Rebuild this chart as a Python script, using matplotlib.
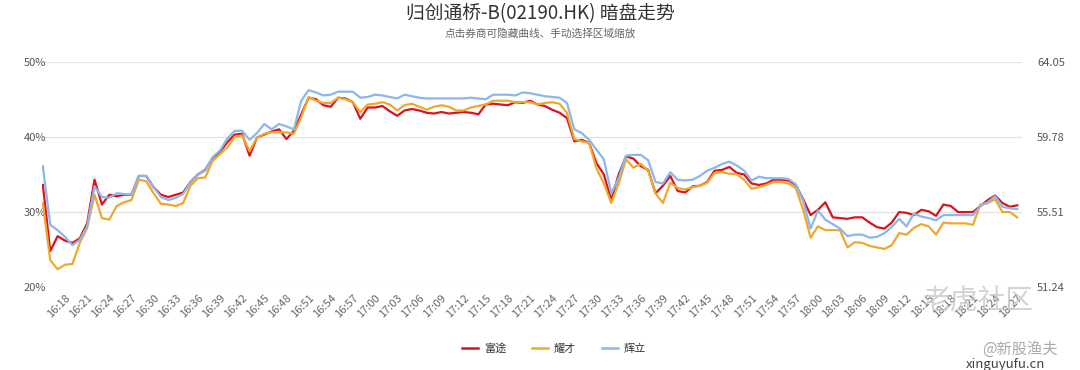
import matplotlib
matplotlib.use('Agg')
import matplotlib.pyplot as plt
from matplotlib.lines import Line2D

plt.rcParams['font.family'] = ['Noto Sans CJK SC', 'DejaVu Sans']

# one point per minute, 16:15 .. 18:27
times = ['%d:%02d' % ((16 * 60 + 15 + m) // 60, (16 * 60 + 15 + m) % 60) for m in range(133)]

futu = [33.6, 24.8, 26.8, 26.2, 25.9, 26.5, 28.5, 34.3, 31.0, 32.3,
        32.1, 32.3, 32.3, 34.8, 34.8, 33.3, 32.3, 32.0, 32.3, 32.6,
        34.0, 35.0, 35.6, 37.2, 38.0, 39.3, 40.3, 40.4, 37.5, 39.9,
        40.3, 40.7, 41.0, 39.7, 40.8, 43.0, 45.2, 45.0, 44.2, 44.0,
        45.2, 45.1, 44.6, 42.4, 43.9, 43.9, 44.1, 43.4, 42.8, 43.5,
        43.7, 43.5, 43.2, 43.1, 43.3, 43.1, 43.2, 43.3, 43.2, 43.0,
        44.3, 44.4, 44.3, 44.2, 44.6, 44.5, 44.8, 44.3, 44.1, 43.6,
        43.2, 42.5, 39.4, 39.6, 39.2, 36.5, 35.0, 31.6, 35.0, 37.4,
        37.1, 36.1, 35.6, 32.5, 33.5, 34.8, 32.8, 32.6, 33.4, 33.5,
        34.0, 35.5, 35.6, 36.0, 35.2, 35.0, 33.8, 33.6, 33.8, 34.3,
        34.3, 34.2, 33.6, 31.7, 29.6, 30.3, 31.3, 29.3, 29.2, 29.1,
        29.3, 29.3, 28.6, 28.0, 27.8, 28.6, 30.0, 29.9, 29.6, 30.3,
        30.1, 29.5, 31.0, 30.8, 30.0, 30.0, 30.0, 30.8, 31.6, 32.2,
        31.2, 30.7, 30.9]

yaocai = [31.2, 23.6, 22.4, 23.0, 23.1, 25.9, 27.9, 32.3, 29.2, 29.0,
          30.8, 31.3, 31.6, 34.3, 34.1, 32.5, 31.1, 31.0, 30.8, 31.2,
          33.5, 34.5, 34.6, 36.8, 37.7, 38.6, 40.0, 40.2, 38.1, 39.9,
          40.4, 40.6, 40.6, 40.6, 40.4, 42.6, 45.3, 44.8, 44.5, 44.5,
          45.2, 45.0, 44.6, 43.3, 44.3, 44.4, 44.6, 44.3, 43.5, 44.2,
          44.4, 44.0, 43.6, 44.0, 44.2, 44.0, 43.5, 43.5, 43.9, 44.1,
          44.3, 44.8, 44.8, 44.8, 44.6, 44.6, 44.6, 44.3, 44.5, 44.6,
          44.4, 43.2, 39.7, 39.4, 39.2, 35.8, 33.8, 31.2, 33.8, 37.0,
          35.9, 36.4, 35.5, 32.5, 31.2, 33.9, 33.2, 33.0, 33.3, 33.5,
          33.9, 35.2, 35.3, 35.1, 35.0, 34.3, 33.1, 33.3, 33.6, 34.0,
          34.0, 33.8, 33.2, 30.3, 26.6, 28.1, 27.6, 27.6, 27.6, 25.3,
          26.0, 25.9, 25.5, 25.3, 25.1, 25.6, 27.2, 27.0, 27.9, 28.4,
          28.1, 27.0, 28.6, 28.5, 28.5, 28.5, 28.3, 31.0, 31.2, 31.7,
          30.0, 30.0, 29.3]

huili = [36.1, 28.3, 27.6, 26.7, 25.6, 26.3, 28.1, 33.4, 32.0, 31.9,
         32.5, 32.4, 32.3, 34.8, 34.8, 33.3, 32.0, 31.6, 31.9, 32.4,
         34.0, 35.0, 35.5, 37.3, 38.2, 39.8, 40.8, 40.8, 39.6, 40.5,
         41.7, 41.0, 41.7, 41.4, 41.0, 44.8, 46.2, 45.9, 45.5, 45.6,
         46.0, 46.0, 46.0, 45.2, 45.3, 45.6, 45.5, 45.3, 45.1, 45.6,
         45.4, 45.2, 45.1, 45.1, 45.1, 45.1, 45.1, 45.1, 45.2, 45.1,
         45.0, 45.6, 45.6, 45.6, 45.5, 45.9, 45.8, 45.6, 45.4, 45.3,
         45.2, 44.5, 41.0, 40.5, 39.6, 38.3, 37.0, 32.5, 34.5, 37.5,
         37.6, 37.6, 36.9, 34.0, 33.8, 35.3, 34.3, 34.2, 34.3, 34.8,
         35.5, 35.9, 36.4, 36.7, 36.2, 35.5, 34.2, 34.7, 34.5, 34.5,
         34.5, 34.4, 33.7, 31.5, 27.8, 30.2, 29.0, 28.4, 27.8, 26.8,
         27.0, 27.0, 26.6, 26.7, 27.2, 28.0, 29.1, 28.1, 29.8, 29.4,
         29.2, 28.9, 29.6, 29.6, 29.6, 29.6, 29.6, 30.8, 31.3, 32.1,
         30.7, 30.5, 30.4]

series_names = ['富途', '耀才', '辉立']
series_colors = ['#d9141f', '#f0a82c', '#8db6ea']
pct_ticks = [20, 30, 40, 50]
price_ticks = ['51.24', '55.51', '59.78', '64.05']

fig = plt.figure(figsize=(10.8, 3.7), dpi=100)
ax = fig.add_axes([0.039, 0.2235, 0.907, 0.61])

x = list(range(len(times)))
for vals, name, col in zip([futu, yaocai, huili], series_names, series_colors):
    ax.plot(x, vals, color=col, lw=1.6, label=name, solid_joinstyle='round')

ax.set_ylim(20, 50)
ax.set_xlim(-0.1, 132.6)
ax.set_yticks(pct_ticks)
ax.set_yticklabels(['%d%%' % p for p in pct_ticks])
ax.grid(axis='y', color='#e3e3e3', lw=0.9)
ax.set_axisbelow(True)
for s in ax.spines.values():
    s.set_visible(False)
ax.tick_params(axis='y', length=0, labelsize=8, labelcolor='#555555', pad=-3)

tick_idx = list(range(3, len(times), 3))
ax.set_xticks(tick_idx)
ax.set_xticklabels([times[i] for i in tick_idx], rotation=45, ha='right',
                   rotation_mode='anchor', fontsize=8, color='#666666')
ax.tick_params(axis='x', length=0, pad=4)

ax2 = ax.twinx()
ax2.set_ylim(20, 50)
ax2.set_yticks(pct_ticks)
ax2.set_yticklabels(price_ticks)
for s in ax2.spines.values():
    s.set_visible(False)
ax2.tick_params(axis='y', length=0, labelsize=8, labelcolor='#555555', pad=11)

fig.text(0.5, 0.962, '归创通桥-B(02190.HK) 暗盘走势', ha='center', va='center',
         fontsize=13.5, color='#333333')
fig.text(0.5, 0.91, '点击券商可隐藏曲线、手动选择区域缩放', ha='center', va='center',
         fontsize=7.7, color='#666666')

handles = [Line2D([], [], color=c, lw=1.8) for c in series_colors]
fig.legend(handles, series_names, loc='center', bbox_to_anchor=(0.513, 0.057),
           ncol=3, frameon=False, fontsize=8, handlelength=1.5,
           columnspacing=2.3, handletextpad=0.5, labelcolor='#333333')

# watermarks
fig.text(0.905, 0.185, '老虎社区', ha='center', va='center', fontsize=20,
         color='#c8c8c8', alpha=0.8)
fig.text(0.944, 0.057, '@新股渔夫', ha='center', va='center', fontsize=11,
         color='#aaaaaa')
fig.text(0.931, 0.015, 'xinguyufu.cn', ha='center', va='center', fontsize=9.5,
         color='#444444')

fig.savefig('out.png', dpi=100)
